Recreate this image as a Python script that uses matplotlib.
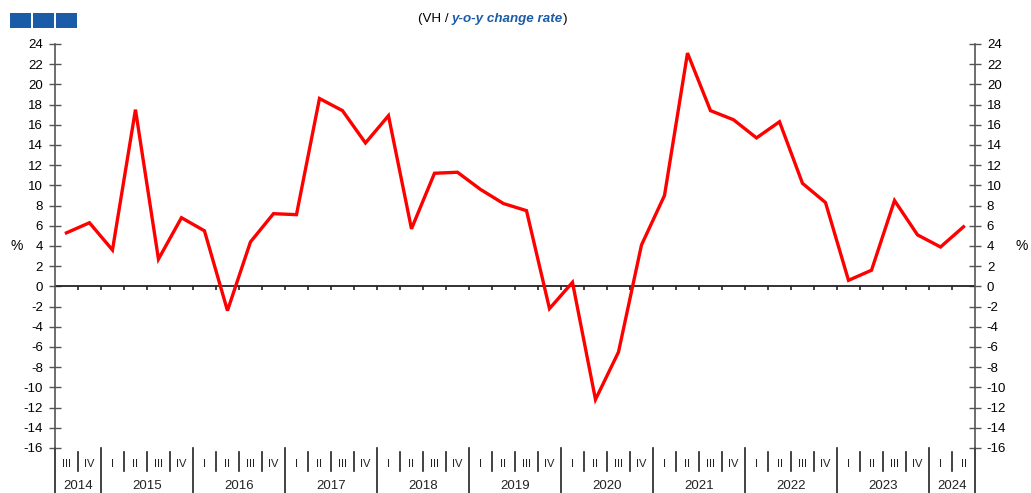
import matplotlib.pyplot as plt
import matplotlib.transforms as mtransforms
from matplotlib.patches import Rectangle

plt.rcParams['font.family'] = ['Liberation Sans', 'DejaVu Sans']
plt.rcParams['axes.unicode_minus'] = False

# quarters from 2014 Q3 to 2024 Q2
years = ['2014', '2015', '2016', '2017', '2018', '2019', '2020', '2021', '2022', '2023', '2024']
quarters_per_year = [2, 4, 4, 4, 4, 4, 4, 4, 4, 4, 2]
quarter_labels = (['III', 'IV'] + ['I', 'II', 'III', 'IV'] * 9 + ['I', 'II'])
values = [5.3, 6.3,
          3.6, 17.5, 2.7, 6.8,
          5.5, -2.4, 4.4, 7.2,
          7.1, 18.6, 17.4, 14.2,
          16.9, 5.7, 11.2, 11.3,
          9.6, 8.2, 7.5, -2.2,
          0.4, -11.2, -6.5, 4.1,
          9.0, 23.1, 17.4, 16.5,
          14.7, 16.3, 10.2, 8.3,
          0.6, 1.6, 8.5, 5.1,
          3.9, 5.9]

blue = '#1a5ca8'
grey = '#555555'

fig = plt.figure(figsize=(10.31, 4.93), dpi=100)
ax = fig.add_axes([0.0533, 0.0913, 0.8924, 0.8195])

n = len(values)
x = [i + 0.5 for i in range(n)]
ax.plot(x, values, color='#ff0000', lw=2.4, solid_joinstyle='miter', zorder=3)

ax.set_xlim(0, n)
ax.set_ylim(-16, 24)
ax.set_yticks(range(-16, 25, 2))
ax.set_xticks([])
ax.tick_params(axis='y', direction='inout', length=9, width=1, color=grey,
               left=True, right=True, labelleft=True, labelright=True,
               labelsize=9.5, pad=4)
for side in ['top', 'bottom']:
    ax.spines[side].set_visible(False)
for side in ['left', 'right']:
    ax.spines[side].set_color(grey)
    ax.spines[side].set_linewidth(1.2)

# zero line with quarter ticks
ax.axhline(0, color='#222222', lw=1.3, zorder=2)
ax.vlines(range(1, n), -0.4, 0, color='#222222', lw=1.2, zorder=2)

# category table below the axes
trans = mtransforms.blended_transform_factory(ax.transData, fig.transFigure)
pos = 0
for yr, cnt in zip(years, quarters_per_year):
    ax.plot([pos, pos], [0.0913, 0.0], transform=trans, color='#222222',
            lw=1.2, clip_on=False)
    for q in range(cnt):
        k = pos + q
        if q > 0:
            ax.plot([k, k], [0.083, 0.045], transform=trans, color='#222222',
                    lw=1.2, clip_on=False)
        ax.text(k + 0.5, 0.059, quarter_labels[k], transform=trans,
                ha='center', va='center', fontsize=8, color='#222222')
    ax.text(pos + cnt / 2, 0.014, yr, transform=trans, ha='center',
            va='center', fontsize=9.5, color='#222222')
    pos += cnt
ax.plot([pos, pos], [0.0913, 0.0], transform=trans, color='#222222',
        lw=1.2, clip_on=False)

# unit labels
fig.text(17 / 1031, 1 - 246 / 493, '%', ha='center', va='center', fontsize=10)
fig.text(1022 / 1031, 1 - 246 / 493, '%', ha='center', va='center', fontsize=10)

# header squares
for i in range(3):
    fig.add_artist(Rectangle(((10 + i * 23) / 1031, 1 - 28 / 493), 21 / 1031, 15 / 493,
                             transform=fig.transFigure, color=blue, lw=0))

# title
t1 = fig.text(0.405, 1 - 19 / 493, '(VH / ', ha='left', va='center', fontsize=9.6)
t2 = ax.annotate('y-o-y change rate', xy=(1, 0), xycoords=t1, va='bottom',
                 ha='left', fontsize=9.6, color=blue, fontweight='bold',
                 style='italic', annotation_clip=False)
ax.annotate(')', xy=(1, 0), xycoords=t2, va='bottom', ha='left', fontsize=9.6,
            annotation_clip=False)

fig.savefig('out.png', dpi=100)
